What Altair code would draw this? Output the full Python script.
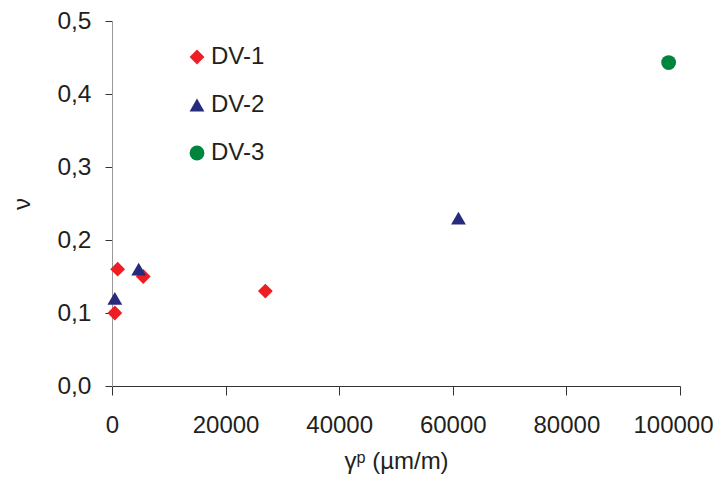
import altair as alt
import pandas as pd

series = ["DV-1", "DV-1", "DV-1", "DV-1", "DV-2", "DV-2", "DV-2", "DV-3"]
gamma_p = [500, 1000, 5500, 27000, 500, 4700, 61000, 98000]
nu = [0.10, 0.16, 0.15, 0.13, 0.12, 0.16, 0.23, 0.443]

df = pd.DataFrame({"series": series, "gamma": gamma_p, "nu": nu})

names = ["DV-1", "DV-2", "DV-3"]
colors = ["#EE1D23", "#262C7B", "#00853F"]
shapes = ["diamond", "triangle-up", "circle"]
sizes = [220, 220, 170]

FONT = "Liberation Sans"
TXT = "#231F20"

chart = alt.Chart(df).mark_point(filled=True, opacity=1).encode(
    x=alt.X("gamma:Q", title="γᵖ (µm/m)",
            scale=alt.Scale(domain=[0, 100000], nice=False),
            axis=alt.Axis(values=[0, 20000, 40000, 60000, 80000, 100000], format="d",
                          grid=False, domainColor="#333333", tickColor="#333333",
                          tickSize=9, labelPadding=18, titlePadding=12,
                          labelFlush=False, labelOverlap=False,
                          labelOffset={"expr": "datum.value == 100000 ? -7 : 0"},
                          labelFontSize=24, titleFontSize=24, labelFont=FONT, titleFont=FONT,
                          labelColor=TXT, titleColor=TXT, titleFontWeight="normal")),
    y=alt.Y("nu:Q", title="ν",
            scale=alt.Scale(domain=[0, 0.5], nice=False),
            axis=alt.Axis(values=[0, 0.1, 0.2, 0.3, 0.4, 0.5],
                          labelExpr="replace(format(datum.value, '.1f'), '.', ',')",
                          grid=False, domainColor="#999999", tickColor="#333333",
                          tickSize=7, labelPadding=14, titlePadding=22,
                          labelFlush=False, labelOverlap=False,
                          labelFontSize=24.5, titleFontSize=24, labelFont=FONT, titleFont=FONT,
                          labelColor=TXT, titleColor=TXT, titleFontWeight="normal")),
    color=alt.Color("series:N", scale=alt.Scale(domain=names, range=colors),
                    legend=alt.Legend(title=None, orient="none", legendX=73, legendY=24,
                                      labelFontSize=24, labelFont=FONT, labelColor=TXT,
                                      symbolSize=170, rowPadding=24, labelOffset=2,
                                      symbolStrokeWidth=0)),
    shape=alt.Shape("series:N", scale=alt.Scale(domain=names, range=shapes)),
    size=alt.Size("series:N", scale=alt.Scale(domain=names, range=sizes), legend=None),
).properties(
    width=568, height=365,
    autosize=alt.AutoSizeParams(type="none"),
    padding={"left": 104, "top": 13, "right": 34, "bottom": 91},
).configure_view(stroke=None)

chart.save("out.html", embed_options={"renderer": "svg", "actions": False})
